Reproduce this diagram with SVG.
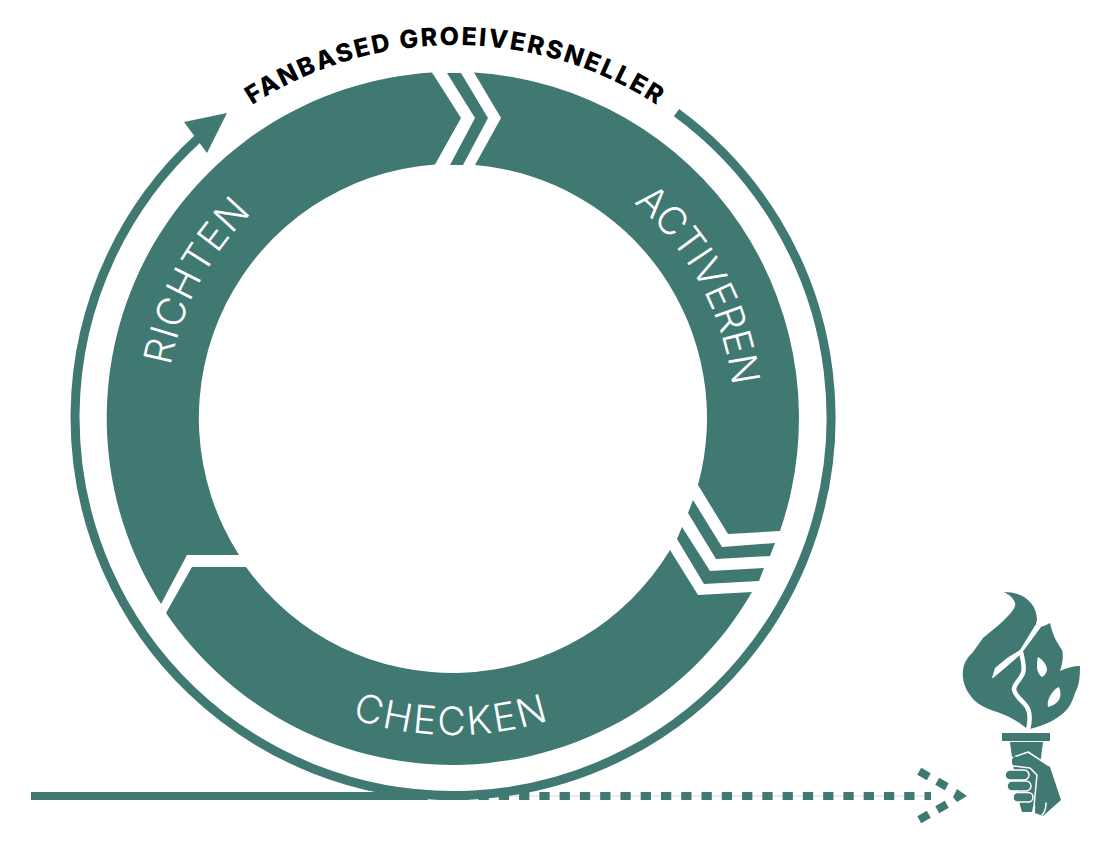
<svg xmlns="http://www.w3.org/2000/svg" width="1099" height="844" viewBox="0 0 1099 844">
<style>
.g{fill:#407971}
.w{fill:#fff}
.wl{fill:none;stroke:#fff;stroke-linecap:round;stroke-linejoin:round}
.line{fill:none;stroke:#407971}
.lab{font-family:"Inter","Liberation Sans",sans-serif;font-weight:300;font-size:39px;fill:#fff}
.head{font-family:"Inter","Liberation Sans",sans-serif;font-weight:800;font-size:25px;fill:#000}
</style>
<defs>
<path id="pTop" d="M252,105 A372,372 0 0 1 660,107"/>
<path id="pR" d="M170.400,366 A287,287 0 0 1 253.600,211.500"/>
<path id="pA" d="M633.600,202.700 A281,281 0 0 1 732.200,386.200"/>
<path id="pC" d="M352,718.500 A317,317 0 0 0 551,719.500"/>
</defs>
<rect width="1099" height="844" fill="#fff"/>
<g id="connectors">
<line stroke="#cfdcd9" stroke-width="1" x1="428" y1="796" x2="931" y2="796"/>
<path class="line" stroke-width="9" d="M677,112.600 A378,378 0 1 1 198.600,138.400" transform="translate(-0.500,0)"/>
<polygon class="g" points="227,113 184,122 207,153"/>
<line class="line" stroke-width="8" x1="31" y1="796" x2="428" y2="796"/>
<line class="line" stroke-width="8" stroke-dasharray="10.300 9.970" x1="438" y1="796" x2="931" y2="796"/>
<g class="g">
<rect x="-5.500" y="-4" width="11" height="8" transform="translate(924,774) rotate(30)"/>
<rect x="-5.500" y="-4" width="11" height="8" transform="translate(942,784) rotate(30)"/>
<rect x="-5.500" y="-4" width="11" height="8" transform="translate(942,807) rotate(-30)"/>
<rect x="-5.500" y="-4" width="11" height="8" transform="translate(924,817) rotate(-30)"/>
<polygon points="967,796 957,789 953,797 957,802"/>
</g>
</g>
<g id="richten">
<path class="g" d="M432,72.600 L461,118 L435,164.600 A254,254 0 0 0 239,555 L187,555 L161,604 A346,346 0 0 1 432,72.600 Z"/>
<text class="lab"><textPath href="#pR" textLength="176">RICHTEN</textPath></text>
</g>
<g id="chevron-top-1"><polygon class="g" points="447,73 461,73 488,118 463,165 450,165 475,118"/></g>
<g id="activeren">
<path class="g" d="M474,72.600 L501,118 L475,165 A254,254 0 0 1 698,485 L728,534 L780,531 A346,346 0 0 0 474,72.600 Z"/>
<text class="lab"><textPath href="#pA" textLength="213">ACTIVEREN</textPath></text>
</g>
<g id="chevron-right-1"><polygon class="g" points="693,500 722,547 775,543 770,556 716,559 688,513"/></g>
<g id="chevron-right-2"><polygon class="g" points="682,527 710,571 764,568 759,581 704,584 677,539"/></g>
<g id="checken">
<path class="g" d="M166,613 L192,567 L246,567 A254,254 0 0 0 670,550 L698,595 L752,592 A346,346 0 0 1 166,613 Z"/>
<text class="lab"><textPath href="#pC" textLength="200">CHECKEN</textPath></text>
</g>
<g id="title">
<text class="head"><textPath href="#pTop" textLength="428">FANBASED GROEIVERSNELLER</textPath></text>
</g>
<g id="torch">
<path class="g" d="M1004,592 C1025,592 1037,605 1037,620 L1036,624 L1040,627 Q1045,626 1050,623 C1052,632 1055,640 1062,650 C1064,657 1062,665 1060,671 C1066,668 1073,666 1080,666 C1080,678 1079,686 1075,693 C1072,703 1068,710 1061,715 C1052,722 1042,726 1030,729 L1027,729 C1020,722 1010,717 1000,713 C988,709 976,705 970,695 C964,687 962,678 963,670 C964,662 968,657 973,652 L983,638 C992,630 1000,625 1007,617 C1014,610 1016,606 1015,603 C1014,599 1010,595 1004,592 Z"/>
<polygon class="w" points="1036,624 1041,627 1024,650 1020,655 1005,668 993,678 992,678 995,668 1007,658 1020,650"/>
<path class="wl" stroke-width="4.500" d="M1021,652 C1023,660 1025,668 1023,673 C1021,679 1014,684 1014,689 C1014,695 1022,700 1027,707 C1031,714 1030,722 1028,730"/>
<path class="w" d="M1038,657 C1043,660 1047,665 1047,670 C1046,674 1044,676 1042,677 C1039,675 1037,671 1037,667 C1037,663 1037,660 1038,657 Z"/>
<path class="w" d="M1059,687 C1061,692 1061,696 1059,700 C1056,704 1052,706 1048,707 C1047,702 1049,697 1052,693 C1054,690 1056,688 1059,687 Z"/>
<rect class="g" x="1002" y="733" width="48" height="8"/>
<polygon class="g" points="1010,742 1043,742 1040,765 1032,812 1022,812 1020,805 1013,765"/>
<path class="g" d="M1012,758 L1028,752 L1050,767 L1061,800 L1043,816 L1035,813 L1036,772 L1012,764 Z"/>
<path class="wl" stroke-width="1.500" d="M1011,758 L1028,752 L1048,765"/>
<path class="g" d="M1013,756 C1018,757 1030,762 1036,766 C1038,771 1037,778 1036,805 L1030,808 L1021,806 L1015,768 Z"/>
<rect class="g" x="1005" y="770" width="24" height="10" rx="5" stroke="#fff" stroke-width="1.500"/>
<rect class="g" x="1007" y="781" width="24" height="10" rx="5" stroke="#fff" stroke-width="1.500"/>
<rect class="g" x="1013" y="792.500" width="20" height="9.500" rx="4.750" stroke="#fff" stroke-width="1.500"/>
<path class="wl" stroke-width="1.500" d="M1012,758 C1009,760 1010,765 1013,766 L1030,768 L1037,775 L1034,806 M1046,803 C1046,808 1045,812 1042,815"/>
</g>
</svg>
